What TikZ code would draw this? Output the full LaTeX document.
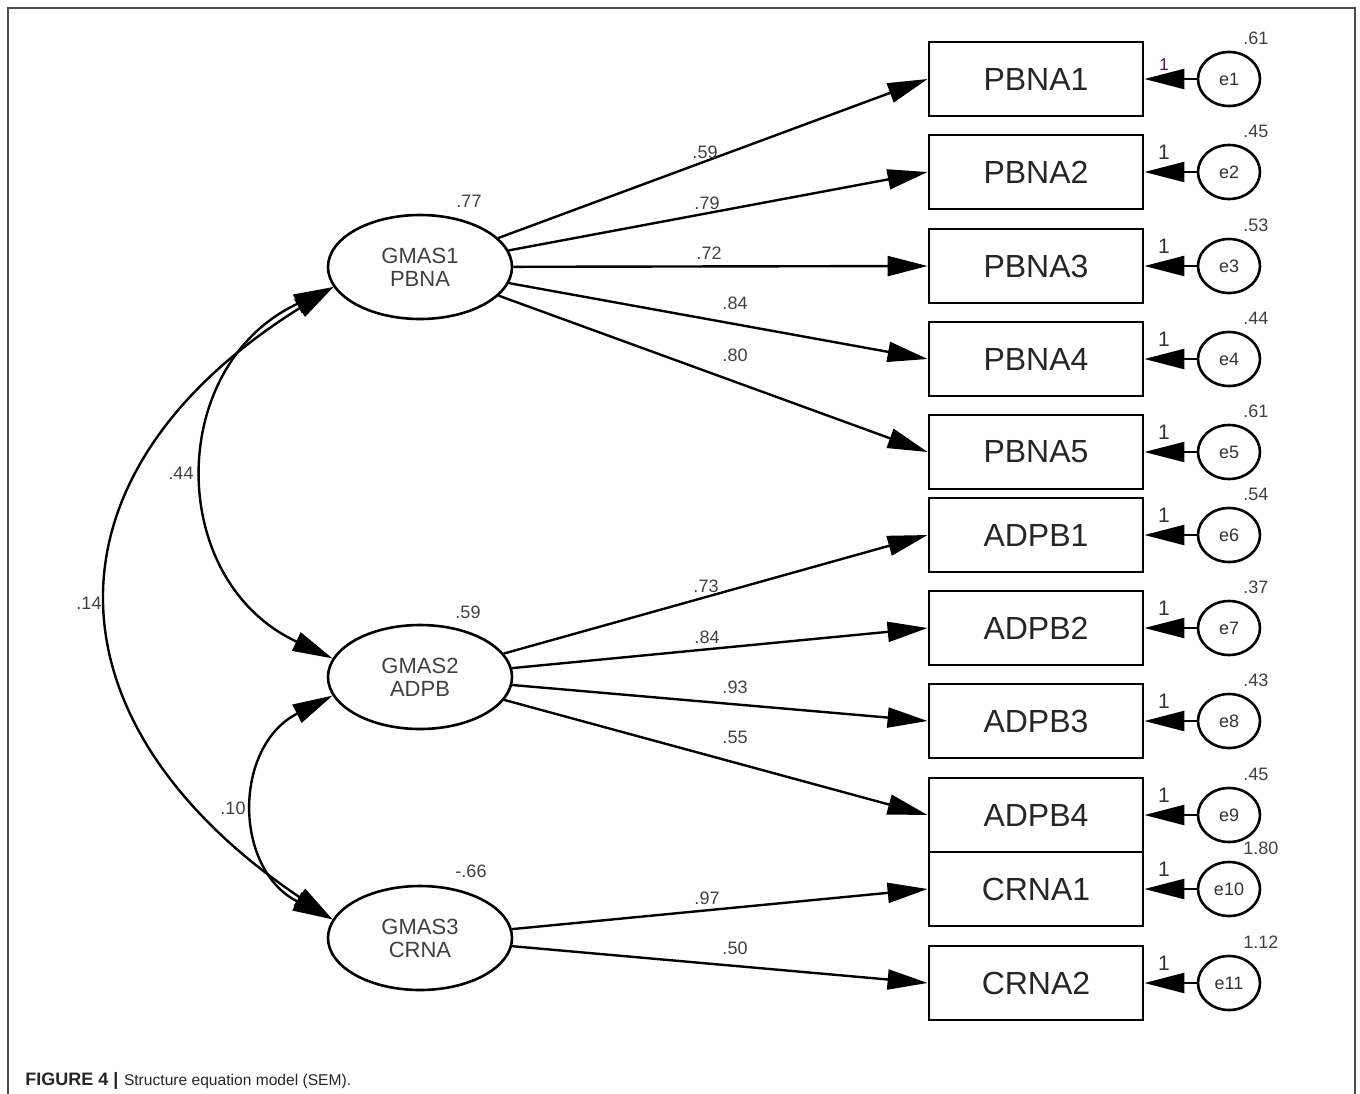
\documentclass[tikz,border=0pt]{standalone}
\usepackage{fontspec}
\setmainfont{Liberation Sans}
\usetikzlibrary{arrows.meta,shapes.geometric}

\begin{document}
\begin{tikzpicture}[x=0.5pt,y=0.5pt,
    obs/.style={draw,line width=1.4pt,minimum width=107pt,minimum height=37pt,inner sep=0pt,
      font=\fontsize{16}{19}\selectfont,text=black!85},
    lat/.style={draw,ellipse,line width=1.3pt,minimum width=92pt,minimum height=52pt,inner sep=0pt,
      align=center,font=\fontsize{11}{11.5}\selectfont,text=black!75},
    err/.style={draw,ellipse,line width=1.3pt,minimum width=31pt,minimum height=27pt,inner sep=0pt,
      font=\fontsize{9}{10}\selectfont,text=black!80},
    est/.style={font=\fontsize{9}{10}\selectfont,text=black!75,inner sep=0pt},
    one/.style={font=\fontsize{10.5}{12}\selectfont,text=black!80,inner sep=0pt},
    onesmall/.style={font=\fontsize{8.5}{10}\selectfont,text=violet!80!black,inner sep=0pt,yshift=-3pt},
    load/.style={line width=1.2pt,-{Triangle[length=20pt,width=10pt]}},
    cov/.style={line width=1.2pt,{Triangle[length=20pt,width=10pt]}-{Triangle[length=20pt,width=10pt]}}]
  \useasboundingbox (0,0) rectangle (1360,-1093);
  % frame
  \draw[line width=1pt,black!70] (8,-1110) -- (8,-8) -- (1355,-8) -- (1355,-1110);

  % latent factors
  \node[lat] (g1) at (420,-267) {GMAS1\\PBNA};
  \node[lat] (g2) at (420,-677) {GMAS2\\ADPB};
  \node[lat] (g3) at (420,-938) {GMAS3\\CRNA};
  \node[est] (v1) at (469,-201) {.77};
  \node[est] (v2) at (468,-612) {.59};
  \node[est] (v3) at (471,-871) {-.66};

  % indicators with their error terms
  \foreach \n/\t/\y/\v/\s in
    { 1/PBNA1/79/.61/onesmall,
      2/PBNA2/172/.45/one,
      3/PBNA3/266/.53/one,
      4/PBNA4/359/.44/one,
      5/PBNA5/452/.61/one,
      6/ADPB1/535/.54/one,
      7/ADPB2/628/.37/one,
      8/ADPB3/721/.43/one,
      9/ADPB4/815/.45/one,
     10/CRNA1/889/1.80/one,
     11/CRNA2/983/1.12/one}
  {
    \node[obs] (b\n) at (1036,-\y) {\t};
    \node[err] (e\n) at (1229,-\y) {e\n};
    \node[est,anchor=west] (ev\n) at (1243,41-\y) {\v};
    \node[\s] (f\n) at (1164,20-\y) {1};
    \draw[load] (e\n) -- (b\n.east);
  }

  % factor loadings
  \foreach \g/\n/\x/\y/\v in
    { g1/1/705/152/.59, g1/2/707/203/.79, g1/3/709/253/.72,
      g1/4/735/303/.84, g1/5/735/355/.80,
      g2/6/706/586/.73, g2/7/707/637/.84, g2/8/735/687/.93, g2/9/735/737/.55,
      g3/10/707/898/.97, g3/11/735/948/.50}
  {
    \draw[load] (\g) -- (b\n.west);
    \node[est] (w\n) at (\x,-\y) {\v};
  }

  % covariances between factors
  \draw[cov] (g1.193) to[out=205,in=155,looseness=1.27] (g2.168);
  \draw[cov] (g1.193) to[out=212,in=146,looseness=1.43] (g3.168);
  \draw[cov] (g2.192) to[out=207,in=153,looseness=1.28] (g3.168);
  \node[est] (c12) at (181,-473) {.44};
  \node[est] (c13) at (89,-603) {.14};
  \node[est] (c23) at (233,-808) {.10};

  % caption
  \node[anchor=base west,inner sep=0pt,text=black!85] (cap) at (25,-1085)
    {{\fontsize{9}{11}\selectfont\bfseries FIGURE 4 |} {\fontsize{7.8}{10}\selectfont Structure equation model (SEM).}};
\end{tikzpicture}
\end{document}
